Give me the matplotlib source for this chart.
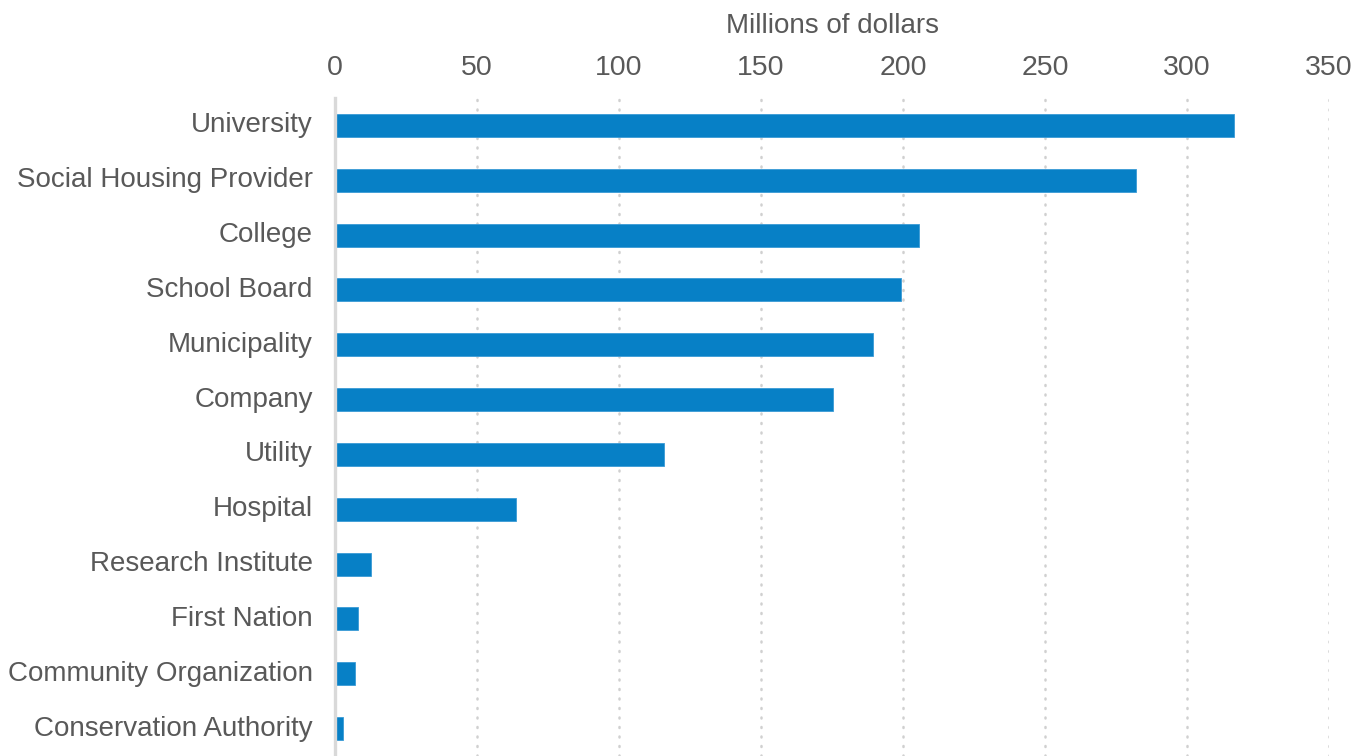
import matplotlib
matplotlib.use("Agg")
import matplotlib.pyplot as plt
import matplotlib.transforms as mtransforms

categories = [
    "University", "Social Housing Provider", "College", "School Board",
    "Municipality", "Company", "Utility", "Hospital", "Research Institute",
    "First Nation", "Community Organization", "Conservation Authority",
]
values = [316.7, 282.0, 205.8, 199.3, 189.5, 175.5, 115.7, 63.6, 12.6, 8.2, 7.1, 2.8]
x_ticks = [0, 50, 100, 150, 200, 250, 300, 350]

plt.rcParams["font.family"] = ["Liberation Sans", "DejaVu Sans"]
TEXT = "#595959"
BAR = "#0780C6"
GRID = "#d0d0d0"

fig = plt.figure(figsize=(13.67, 7.56), dpi=100)
ax = fig.add_axes([335 / 1367, 0.0, (1329 - 335) / 1367, 1 - 98 / 756])

pos = list(range(len(categories)))
ax.barh(pos, values, height=0.42, color=BAR, edgecolor="#3a9ad6", linewidth=0.6, zorder=2)

ax.set_xlim(0, 350)
ax.set_ylim(len(categories) - 0.5, -0.5)
ax.set_yticks(pos)
ax.set_yticklabels(categories, fontsize=20, color=TEXT)
ax.set_xticks(x_ticks)
ax.set_xticklabels([str(t) for t in x_ticks], fontsize=20.5, color=TEXT)

ax.xaxis.tick_top()
ax.xaxis.set_label_position("top")
ax.set_xlabel("Millions of dollars", fontsize=20, color=TEXT, labelpad=16)
ax.tick_params(axis="x", length=0, pad=12)
ax.tick_params(axis="y", length=0, pad=16)

# nudge category labels slightly upward
shift = mtransforms.ScaledTranslation(0, 3 / 100, fig.dpi_scale_trans)
for lab in ax.get_yticklabels():
    lab.set_transform(lab.get_transform() + shift)

for s in ["top", "right", "bottom"]:
    ax.spines[s].set_visible(False)
ax.spines["left"].set_color("#d9d9d9")
ax.spines["left"].set_linewidth(2.4)
ax.spines["left"].set_zorder(3)

for t in x_ticks[1:]:
    ax.axvline(t, color=GRID, linewidth=1.8, linestyle=(0, (0.4, 3.4)),
               dash_capstyle="round", zorder=1)

fig.savefig("out.png", dpi=100)
